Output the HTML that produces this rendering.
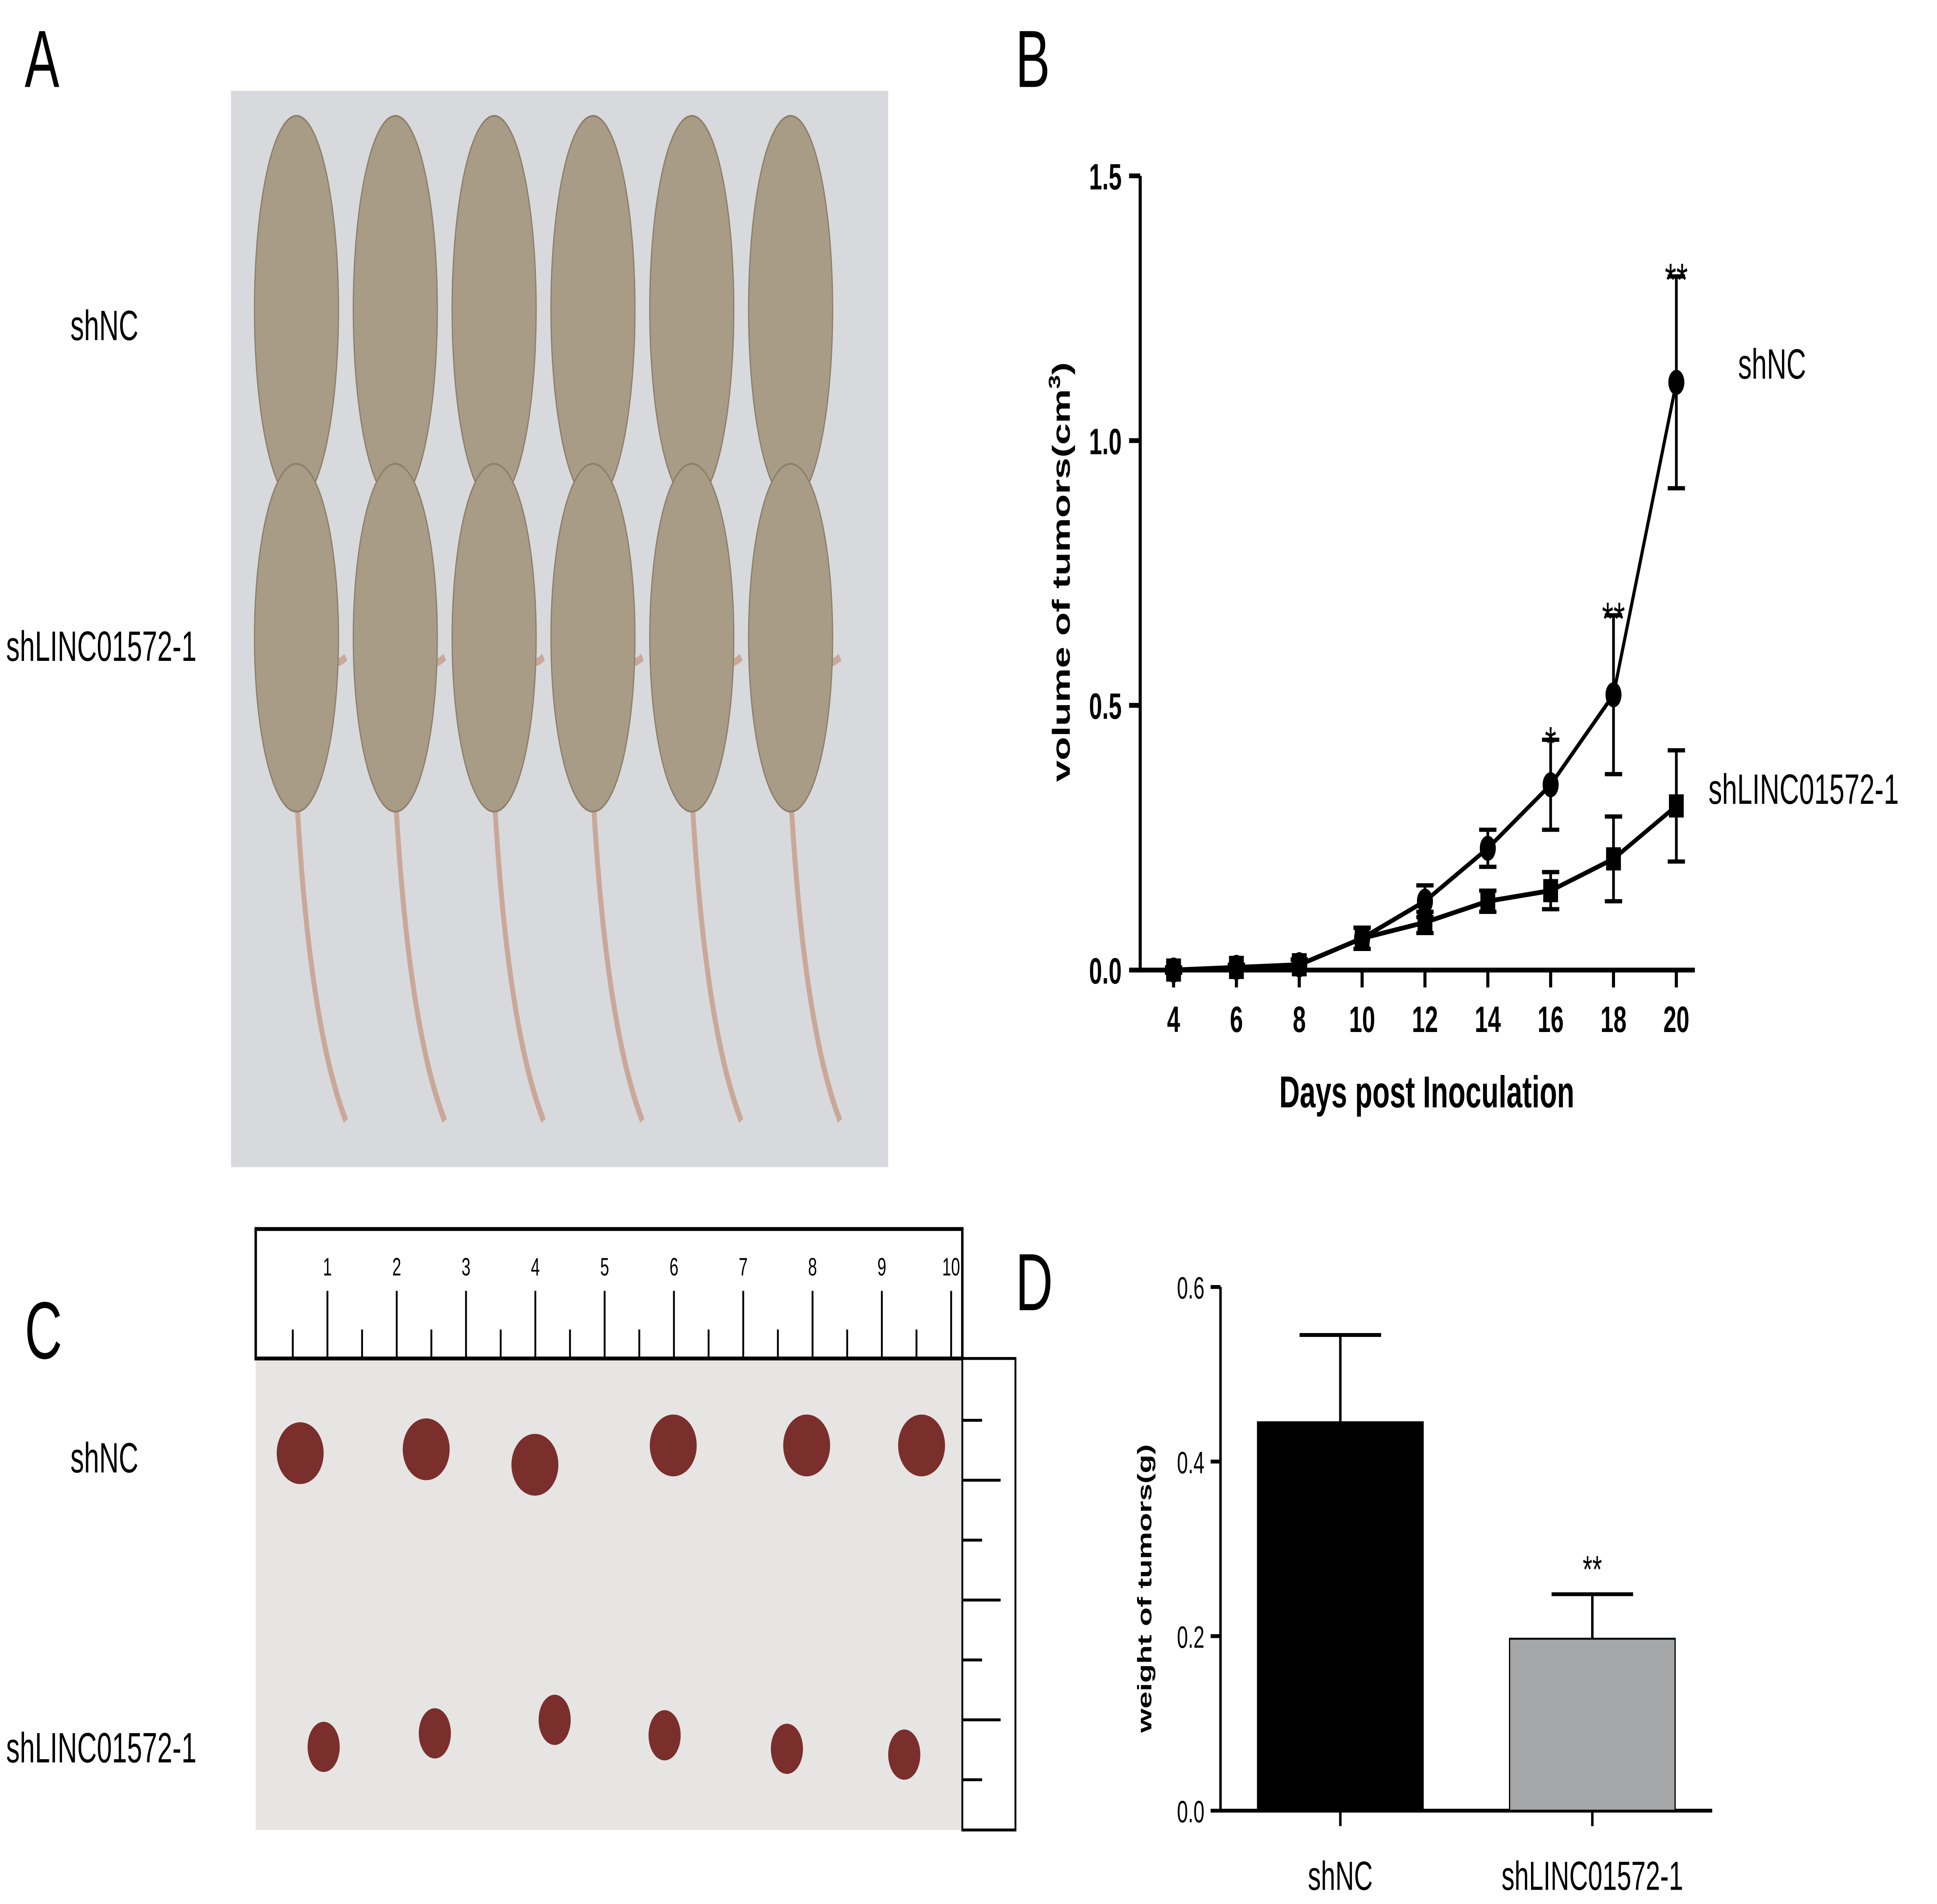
<!DOCTYPE html>
<html><head><meta charset="utf-8"><style>
html,body{margin:0;padding:0;background:#fff;width:100%;height:100%;overflow:hidden}
svg{position:fixed;left:0;top:0;display:block;width:100vw;height:100vh}
text{font-family:"Liberation Sans",Arial,sans-serif}
</style></head><body>
<svg viewBox="0 0 1568 985.3" preserveAspectRatio="none" xmlns="http://www.w3.org/2000/svg">
<rect width="1568" height="986" fill="#fff"/>
<text x="20" y="45" font-size="42">A</text>
<text x="822" y="45" font-size="42">B</text>
<text x="20" y="703" font-size="42">C</text>
<text x="822" y="678" font-size="42">D</text>

<g>
<rect x="187" y="47" width="532" height="557" fill="#d8d9dc"/>
<g id="mice" fill="#a89c86" stroke="#8c806c" stroke-width="1"></g>
</g>
<text x="57" y="176" font-size="22">shNC</text>
<text x="5" y="342" font-size="22">shLINC01572-1</text>

<g>
<rect x="207" y="703" width="572" height="244" fill="#e6e5e4"/>
<rect x="207" y="636" width="572" height="67" fill="#fff" stroke="#000" stroke-width="2"/>
<rect x="779" y="703" width="43" height="244" fill="#fff" stroke="#000" stroke-width="1.5"/>
<g id="ruler" stroke="#000"></g>
<g id="tumors" fill="#7a2f2c"></g>
</g>
<text x="57" y="762" font-size="22">shNC</text>
<text x="5" y="912" font-size="22">shLINC01572-1</text>

<g id="chartB"></g>
<g id="chartD"></g>
</svg>
<script>
const NS="http://www.w3.org/2000/svg";
function mk(p,tag,a){const e=document.createElementNS(NS,tag);for(const k in a)e.setAttribute(k,a[k]);p.appendChild(e);return e;}
const mice=document.getElementById('mice');
for(let r=0;r<2;r++)for(let i=0;i<6;i++){
 const cx=240+i*80, cy=r?330:160;
 const t=mk(mice,'path',{d:`M${cx} ${cy+80} Q${cx+10} ${cy+200} ${cx+40} ${cy+(r?250:180)}`,fill:'none',stroke:'#c9a89a','stroke-width':4});
 
 
 const m=mk(mice,'ellipse',{cx:cx,cy:cy,rx:34,ry:r?90:100});
 
 
}
const ru=document.getElementById('ruler');
for(let k=0;k<=19;k++){const x=237+k*28.05;mk(ru,'line',{x1:x,x2:x,y1:703,y2:k%2?668:688,'stroke-width':1.5});
 if(k%2===1){const t=mk(ru,'text',{x:x,y:660,'font-size':13,stroke:'none','text-anchor':'middle'});t.textContent=(k+1)/2;}}
for(let k=0;k<7;k++){const y=735+k*31;mk(ru,'line',{x1:779,x2:k%2?810:795,y1:y,y2:y,'stroke-width':1.5});}
const tm=document.getElementById('tumors');
[[243,752],[345,750],[433,758],[545,748],[653,748],[746,748]].forEach(p=>{const e=mk(tm,'ellipse',{cx:p[0],cy:p[1],rx:19,ry:16});});
[[262,904],[352,897],[449,890],[538,898],[637,905],[732,908]].forEach(p=>{const e=mk(tm,'ellipse',{cx:p[0],cy:p[1],rx:13,ry:13});});

const days=[4,6,8,10,12,14,16,18,20];
const shNC=[0,0.005,0.01,0.06,0.13,0.23,0.35,0.52,1.11];
const shNCerr=[0.005,0.005,0.01,0.02,0.03,0.035,0.085,0.15,0.2];
const shLINC=[0,0.005,0.01,0.06,0.09,0.13,0.15,0.21,0.31];
const shLINCerr=[0.005,0.005,0.01,0.02,0.02,0.02,0.035,0.08,0.105];
const yTicksB=[0,0.5,1.0,1.5];
const yTickLabelsB=["0.0","0.5","1.0","1.5"];
const sigB=[["*",16],["**",18],["**",20]];
const B=document.getElementById('chartB');
const bx=d=>950+(d-4)*(1357-950)/16, by=v=>502-v*(502-91)/1.5;
let ax=mk(B,'line',{x1:923,x2:923,y1:91,y2:502,stroke:'#000','stroke-width':2.5});

ax=mk(B,'line',{x1:922,x2:1372,y1:502,y2:502,stroke:'#000','stroke-width':2.5});

yTicksB.forEach((v,i)=>{mk(B,'line',{x1:914,x2:923,y1:by(v),y2:by(v),stroke:'#000','stroke-width':2.5});
 const t=mk(B,'text',{x:908,y:by(v)+7,'font-size':19,'font-weight':'bold','text-anchor':'end'});t.textContent=yTickLabelsB[i];
 });
days.forEach(d=>{mk(B,'line',{x1:bx(d),x2:bx(d),y1:502,y2:511,stroke:'#000','stroke-width':2.5});
 const t=mk(B,'text',{x:bx(d),y:534,'font-size':19,'font-weight':'bold','text-anchor':'middle'});t.textContent=d;
 });
let tt=mk(B,'text',{x:1155,y:573,'font-size':23,'font-weight':'bold','text-anchor':'middle'});tt.textContent="Days post Inoculation";

tt=mk(B,'text',{x:0,y:0,'font-size':20,'font-weight':'bold','text-anchor':'middle',transform:'translate(866,296) rotate(-90)'});
tt.innerHTML='volume of tumors(cm<tspan dy="-8" font-size="13">3</tspan><tspan dy="8">)</tspan>';

function series(vals,errs,name,square){
 const g=mk(B,'g',{});
 mk(g,'polyline',{points:days.map((d,i)=>bx(d)+','+by(vals[i])).join(' '),fill:'none',stroke:'#000','stroke-width':2.5});
 days.forEach((d,i)=>{const x=bx(d),y1=by(vals[i]+errs[i]),y2=by(vals[i]-errs[i]);
  mk(g,'path',{d:`M${x} ${y1}V${y2}M${x-7} ${y1}H${x+7}M${x-7} ${y2}H${x+7}`,stroke:'#000','stroke-width':2.2,fill:'none'});
  const p=square?mk(g,'rect',{x:x-6,y:by(vals[i])-6,width:12,height:12}):mk(g,'circle',{cx:x,cy:by(vals[i]),r:6.5});
  });
}
series(shLINC,shLINCerr,'series-shlinc',true);
series(shNC,shNCerr,'series-shnc',false);
sigB.forEach(s=>{const i=days.indexOf(s[1]);const t=mk(B,'text',{x:bx(s[1]),y:by(shNC[i]+shNCerr[i])+10,'font-size':24,'text-anchor':'middle'});t.textContent=s[0];
 });
tt=mk(B,'text',{x:1407,y:196,'font-size':22});tt.textContent="shNC";
tt=mk(B,'text',{x:1383,y:416,'font-size':22});tt.textContent="shLINC01572-1";

const groups=["shNC","shLINC01572-1"];
const weights=[0.445,0.197];
const weightErr=[0.1,0.051];
const yTicksD=[0,0.2,0.4,0.6];
const yTickLabelsD=["0.0","0.2","0.4","0.6"];
const D=document.getElementById('chartD');
const dy=v=>937-v*(937-666)/0.6, dx=i=>1085+i*204;
const colors=["#000","#a6a7a9"];
ax=mk(D,'line',{x1:988,x2:988,y1:666,y2:937,stroke:'#000','stroke-width':2});

ax=mk(D,'line',{x1:987,x2:1386,y1:937,y2:937,stroke:'#000','stroke-width':2});

yTicksD.forEach((v,i)=>{mk(D,'line',{x1:980,x2:988,y1:dy(v),y2:dy(v),stroke:'#000','stroke-width':2});
 const t=mk(D,'text',{x:975,y:dy(v)+6,'font-size':16,'text-anchor':'end'});t.textContent=yTickLabelsD[i];
 });
groups.forEach((g,i)=>{const x=dx(i);
 mk(D,'path',{d:`M${x} ${dy(weights[i])}V${dy(weights[i]+weightErr[i])}M${x-33} ${dy(weights[i]+weightErr[i])}H${x+33}`,stroke:'#000','stroke-width':2,fill:'none'});
 const b=mk(D,'rect',{x:x-67,y:dy(weights[i]),width:134,height:937-dy(weights[i]),fill:colors[i],stroke:'#000','stroke-width':1});
 
 mk(D,'line',{x1:x,x2:x,y1:937,y2:945,stroke:'#000','stroke-width':2});
 const t=mk(D,'text',{x:x,y:978,'font-size':21,'text-anchor':'middle'});t.textContent=g;
 });
tt=mk(D,'text',{x:dx(1),y:dy(weights[1]+weightErr[1])-6,'font-size':20,'text-anchor':'middle'});tt.textContent="**";

tt=mk(D,'text',{x:0,y:0,'font-size':16,'font-weight':'bold','text-anchor':'middle',transform:'translate(932,822) rotate(-90)'});tt.textContent="weight of tumors(g)";

</script>
</body></html>
